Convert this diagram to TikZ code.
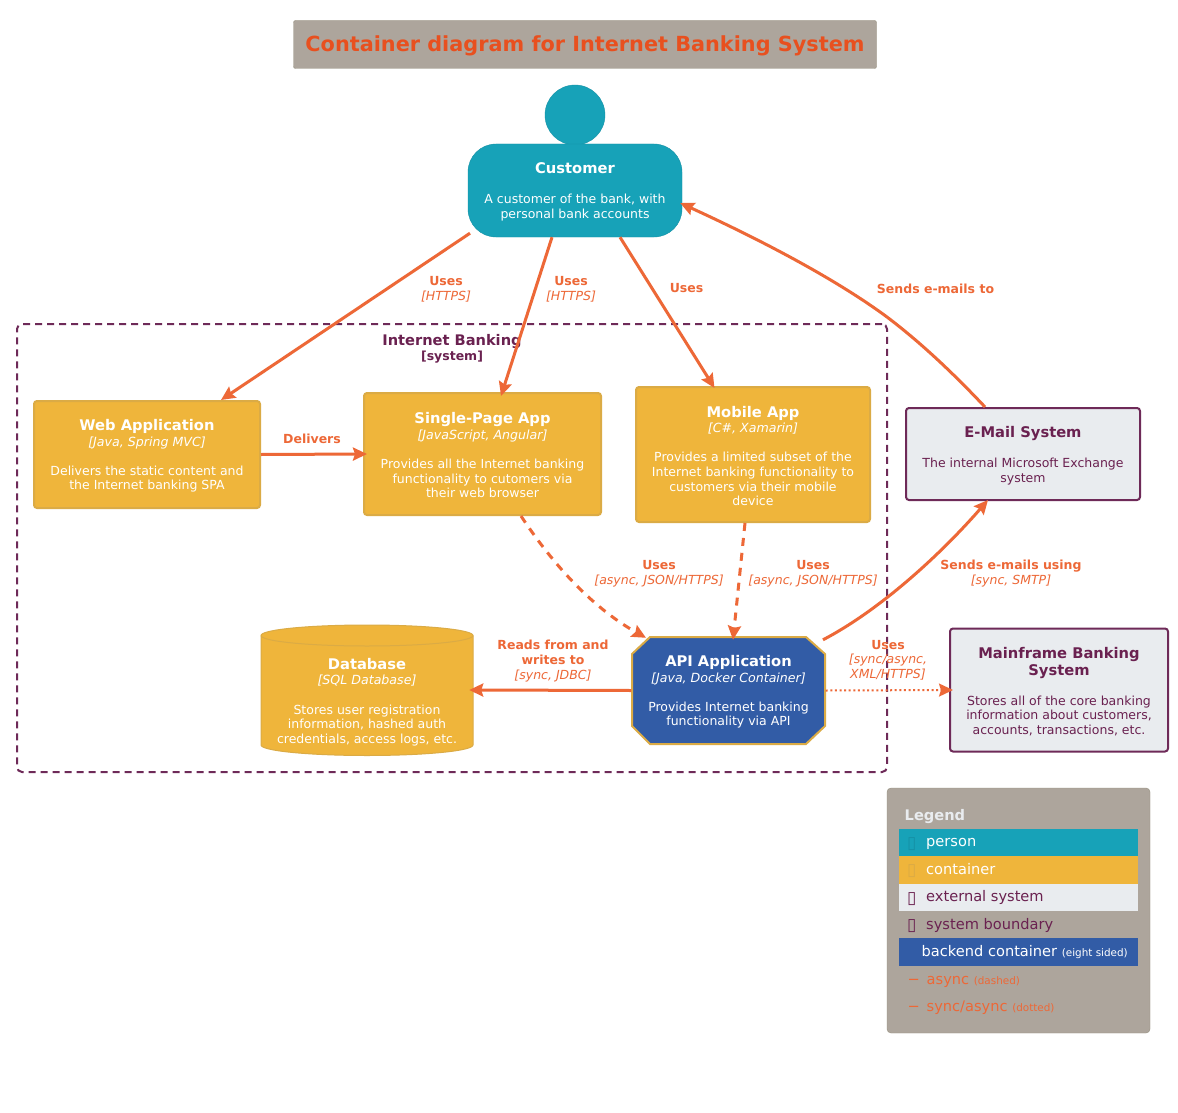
\documentclass[tikz,border=0pt]{standalone}
\usepackage{fontspec}
\setmainfont{DejaVu Sans}
\usetikzlibrary{arrows.meta}
\definecolor{teal}{HTML}{17A2B8}
\definecolor{tealdk}{HTML}{1591A6}
\definecolor{gold}{HTML}{EFB53B}
\definecolor{golddk}{HTML}{DBAB45}
\definecolor{navy}{HTML}{325CA6}
\definecolor{extbg}{HTML}{E9ECEF}
\definecolor{plum}{HTML}{6A2150}
\definecolor{plumln}{HTML}{6E2A58}
\definecolor{arrowc}{HTML}{ED6837}
\definecolor{stone}{HTML}{ADA59C}
\definecolor{stonedk}{HTML}{96907F}
\definecolor{titlec}{HTML}{E8501F}
\newcommand{\sz}[1]{\fontsize{#1}{14.6}\selectfont}
\newcommand{\tit}[1]{{\sz{14.7}\bfseries #1}}
\newcommand{\tech}[1]{{\sz{12.6}\itshape #1}}
\newcommand{\drop}{\rule{0pt}{14pt}}
\tikzset{
  base/.style={align=center,inner sep=0pt,font=\sz{12.5},text=white,minimum width=#1},
  contbox/.style={base=226pt,draw=golddk,fill=gold,line width=2pt,rounded corners=3pt},
  extbox/.style={base=234pt,draw=plumln,fill=extbg,text=plum,line width=2pt,rounded corners=3pt},
  edge/.style={draw=arrowc,line width=3pt,-{Stealth[length=14pt,width=13pt,inset=2pt]}},
  lab/.style={align=center,inner sep=0pt,text=arrowc,font=\sz{12.5}},
  legtext/.style={anchor=base west,inner sep=0pt,font=\sz{14.6}},
  legicon/.style={anchor=base west,inner sep=0pt,font=\sz{17}},
  legrow/.style={minimum width=239pt,minimum height=27.3pt,inner sep=0pt,anchor=north west},
}
\newcommand{\lb}[1]{{\bfseries #1}}
\newcommand{\li}[1]{{\itshape #1}}
\begin{document}
\begin{tikzpicture}[x=1pt,y=-1pt]
\useasboundingbox (0,0) rectangle (1178,1113);
\fill[white] (0,0) rectangle (1178,1113);
% boundary
\node[draw=plumln,line width=2pt,dash pattern=on 7pt off 5pt,rounded corners=5pt,minimum width=870pt,minimum height=448pt,inner sep=0pt] (bound) at (452,548) {};
\node[align=center,text=plum,inner sep=0pt] (boundt) at (452,349) {{\sz{14.6}\bfseries Internet Banking}\\[1.4pt]{\sz{12.5}\bfseries [system]}};
% title
\node[draw=stonedk,fill=stone,rounded corners=2pt,minimum width=583pt,minimum height=48pt,inner sep=0pt,text=titlec,font=\sz{20.8}\bfseries] (title) at (585,44.5) {\rule{0pt}{18pt}Container diagram for Internet Banking System};
% person
\node[circle,draw=tealdk,fill=teal,minimum size=60pt,inner sep=0pt] (head) at (575,115) {};
\node[base=214pt,fill=teal,draw=tealdk,rounded corners=28pt,minimum height=93pt] (cust) at (575,190.5) {\drop\tit{Customer}\\[15.4pt]A customer of the bank, with\\personal bank accounts};
% containers
\node[contbox,minimum height=107pt] (web) at (147,454.5) {\drop\tit{Web Application}\\[1pt]\tech{[Java, Spring MVC]}\\[14.6pt]Delivers the static content and\\the Internet banking SPA};
\node[contbox,minimum width=237pt,minimum height=122pt] (spa) at (482.5,454) {\drop\tit{Single-Page App}\\[1pt]\tech{[JavaScript, Angular]}\\[14.6pt]Provides all the Internet banking\\functionality to cutomers via\\their web browser};
\node[contbox,minimum width=234pt,minimum height=135pt] (mob) at (753,454.5) {\drop\tit{Mobile App}\\[1pt]\tech{[C\#, Xamarin]}\\[14.6pt]Provides a limited subset of the\\Internet banking functionality to\\customers via their mobile\\device};
% database
\path[fill=gold,draw=golddk,line width=1pt] (261,635.5) arc[start angle=180,end angle=360,x radius=106,y radius=10.5] -- (473,745) arc[start angle=0,end angle=180,x radius=106,y radius=10.5] -- cycle;
\draw[golddk,line width=1pt] (261,635.5) arc[start angle=180,end angle=0,x radius=106,y radius=10.5];
\node[base=212pt,minimum height=130pt] (db) at (367,690) {\rule{0pt}{35pt}\tit{Database}\\[1pt]\tech{[SQL Database]}\\[14.6pt]Stores user registration\\information, hashed auth\\credentials, access logs, etc.};
% API
\path[fill=navy,draw=golddk,line width=2pt] (650,637) -- (806,637) -- (825,654) -- (825,726) -- (806,744) -- (650,744) -- (632,726) -- (632,654) -- cycle;
\node[base=194pt,minimum height=108pt] (api) at (728.5,690.5) {\drop\tit{API Application}\\[1pt]\tech{[Java, Docker Container]}\\[14.6pt]Provides Internet banking\\functionality via API};
% externals
\node[extbox,minimum height=92pt] (email) at (1023,454) {\drop\tit{E-Mail System}\\[15.4pt]The internal Microsoft Exchange\\system};
\node[extbox,minimum width=218pt,minimum height=123pt] (main) at (1059,690) {\drop\tit{Mainframe Banking}\\[2.4pt]\tit{System}\\[15.4pt]Stores all of the core banking\\information about customers,\\accounts, transactions, etc.};
% connectors
\draw[edge] ([xshift=-105pt,yshift=4pt]cust.south) -- ([xshift=74pt]web.north);
\draw[edge] ([xshift=-23pt]cust.south) -- ([xshift=18.5pt,yshift=-4pt]spa.north);
\draw[edge] ([xshift=45pt]cust.south) -- ([xshift=-38.5pt,yshift=-2pt]mob.north);
\draw[edge] ([xshift=-38pt]email.north) .. controls (952,372) and (920,342) .. (887,317) .. controls (830,275) and (750,235) .. ([xshift=-2pt,yshift=-12.5pt]cust.east);
\draw[edge] (web.east) -- ([xshift=4pt]spa.west);
\draw[edge,dash pattern=on 8pt off 7pt] ([xshift=38.5pt]spa.south) .. controls (560,575) and (600,612) .. ([xshift=-82.5pt,yshift=-1.5pt]api.north);
\draw[edge,dash pattern=on 8pt off 7pt] ([xshift=-8pt]mob.south) -- ([xshift=4.5pt,yshift=-3.5pt]api.north);
\draw[edge] ([xshift=94.5pt,yshift=-3.5pt]api.north) .. controls (880,610) and (940,555) .. ([xshift=-35pt,yshift=1pt]email.south);
\draw[edge] (api.west) -- ([xshift=-4pt]db.east);
\draw[edge,line width=2pt,dash pattern=on 2pt off 2.6pt] (api.east) -- ([xshift=4pt]main.west);
% labels
\node[lab] (l1) at (446,289) {\lb{Uses}\\[0.4pt]\li{[HTTPS]}};
\node[lab] (l2) at (571,289) {\lb{Uses}\\[0.4pt]\li{[HTTPS]}};
\node[lab] (l3) at (686.5,288.5) {\lb{Uses}};
\node[lab] (l4) at (935.5,288.5) {\lb{Sends e-mails to}};
\node[lab] (l5) at (312,438.5) {\lb{Delivers}};
\node[lab] (l6) at (659,574) {\lb{Uses}\\[0.4pt]\li{[async, JSON/HTTPS]}};
\node[lab] (l7) at (813,574) {\lb{Uses}\\[0.4pt]\li{[async, JSON/HTTPS]}};
\node[lab] (l8) at (1011,574) {\lb{Sends e-mails using}\\[0.4pt]\li{[sync, SMTP]}};
\node[lab] (l9) at (553,661) {\lb{Reads from and}\\\lb{writes to}\\\li{[sync, JDBC]}};
\node[lab] (l10) at (888,660) {\lb{Uses}\\\li{[sync/async,}\\\li{XML/HTTPS]}};
% legend
\node[draw=stonedk,fill=stone,rounded corners=4pt,minimum width=263pt,minimum height=245pt,inner sep=0pt] (leg) at (1018.5,910.5) {};
\node[legtext,text=extbg,font=\sz{14.6}\bfseries] (legt) at (904.5,820) {Legend};
\node[legrow,fill=teal] (r1) at (899,829) {};
\node[legrow,fill=gold] (r2) at (899,856) {};
\node[legrow,fill=extbg] (r3) at (899,883.5) {};
\node[legrow,fill=navy] (r5) at (899,938) {};
\node[legicon,text=tealdk] (i1) at (907,848) {▯};
\node[legtext,text=white] (t1) at (926,846.7) {person};
\node[legicon,text=golddk] (i2) at (907,875) {▯};
\node[legtext,text=white] (t2) at (926,874) {container};
\node[legicon,text=plum] (i3) at (907,903) {▯};
\node[legtext,text=plum] (t3) at (926,901.7) {external system};
\node[legicon,text=plum] (i4) at (907,930) {▯};
\node[legtext,text=plum] (t4) at (926,929) {system boundary};
\node[legtext,text=white] (t5) at (921.5,956.7) {backend container {\sz{10.4}(eight sided)}};
\node[legtext,text=arrowc] (i6) at (907.5,984) {−};
\node[legtext,text=arrowc] (t6) at (926.5,984) {async {\sz{10.4}(dashed)}};
\node[legtext,text=arrowc] (i7) at (907.5,1011.7) {−};
\node[legtext,text=arrowc] (t7) at (926.5,1011.7) {sync/async {\sz{10.4}(dotted)}};
\end{tikzpicture}
\end{document}
